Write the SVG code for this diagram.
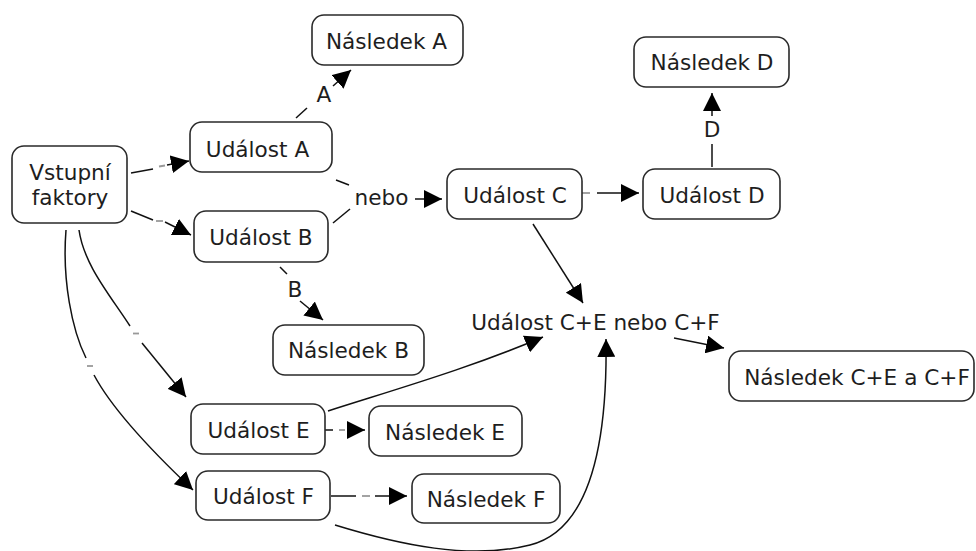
<svg xmlns="http://www.w3.org/2000/svg" width="976" height="551" viewBox="0 0 976 551">
<defs>
<style>
.box{fill:#fff;stroke:#2a2a2a;stroke-width:1.6}
.t{font-family:"DejaVu Sans","Verdana",sans-serif;font-size:21.6px;fill:#1e1e1e;text-anchor:middle}
.c{fill:none;stroke:#111;stroke-width:1.5}
.g{fill:none;stroke:#999;stroke-width:1.8}
</style>
<marker id="ah" markerUnits="userSpaceOnUse" markerWidth="19" markerHeight="18" refX="18" refY="9" orient="auto" viewBox="0 0 19 18">
<path d="M0,0 L18,9 L0,18 Z" fill="#000"/>
</marker>
</defs>
<rect width="976" height="551" fill="#fff"/>
<g id="connectors">
<!-- Vstupni -> Udalost A -->
<path class="c" d="M131,173 L153,169"/>
<path class="g" d="M159,166.5 L165,165.5"/>
<path class="c" d="M167,165 L189,161" marker-end="url(#ah)"/>
<!-- Vstupni -> Udalost B -->
<path class="c" d="M131,211 L153,220"/>
<path class="g" d="M156,221 L163,221"/>
<path class="c" d="M165,222 L191,235" marker-end="url(#ah)"/>
<!-- Udalost A -> Nasledek A -->
<path class="c" d="M296,118 L307,108"/>
<path class="c" d="M333,86 L351,70" marker-end="url(#ah)"/>
<!-- A, B -> nebo -> C -->
<path class="c" d="M336,180 L349,185"/>
<path class="c" d="M333,223 L350,209"/>
<path class="c" d="M415,199 L442,199" marker-end="url(#ah)"/>
<!-- C -> D -->
<path class="g" d="M582,193 L590,193"/>
<path class="c" d="M597,193 L639,193" marker-end="url(#ah)"/>
<!-- D -> Nasledek D -->
<path class="c" d="M712,167 L712,144"/>
<path class="c" d="M712,116 L712,93" marker-end="url(#ah)"/>
<!-- B -> Nasledek B -->
<path class="c" d="M280,267 L287,274"/>
<path class="c" d="M300,301 L323,320" marker-end="url(#ah)"/>
<!-- C -> C+E -->
<path class="c" d="M533,224 L583,303" marker-end="url(#ah)"/>
<!-- C+E -> Nasledek C+E -->
<path class="c" d="M674,338 L724,348" marker-end="url(#ah)"/>
<!-- E -> C+E -->
<path class="c" d="M328,411 C400,388 470,368 543,337" marker-end="url(#ah)"/>
<!-- F -> C+E -->
<path class="c" d="M335,525 C400,545 470,560 530,545 C580,532.5 608,470 606,339" marker-end="url(#ah)"/>
<!-- Vstupni -> E -->
<path class="c" d="M79,230 C84,265 110,295 130,326"/>
<path class="g" d="M133,333.5 L139,333.5"/>
<path class="c" d="M142,343 L186,397" marker-end="url(#ah)"/>
<!-- Vstupni -> F -->
<path class="c" d="M66,230 C62,280 72,330 86,358"/>
<path class="g" d="M87,366 L93,366"/>
<path class="c" d="M94,375 C110,405 140,440 193,490" marker-end="url(#ah)"/>
<!-- E -> Nasledek E -->
<path class="c" d="M325,430 L333,430"/>
<path class="g" d="M339,430 L345,430"/>
<path class="c" d="M347,430 L365,430" marker-end="url(#ah)"/>
<!-- F -> Nasledek F -->
<path class="c" d="M331,496 L356,496"/>
<path class="g" d="M362,496 L370,496"/>
<path class="c" d="M375,496 L407,496" marker-end="url(#ah)"/>
<!-- link labels -->
<text class="t" x="324" y="102">A</text>
<text class="t" x="381.5" y="205">nebo</text>
<text class="t" x="712" y="137">D</text>
<text class="t" x="295" y="297">B</text>
</g>
<g id="vstupni">
<rect class="box" x="12" y="146" width="115" height="77" rx="12"/>
<text class="t" x="70" y="180">Vstupní</text>
<text class="t" x="70" y="205">faktory</text>
</g>
<g id="nasledekA">
<rect class="box" x="312" y="15" width="151" height="50" rx="12"/>
<text class="t" x="386.5" y="49">Následek A</text>
</g>
<g id="udalostA">
<rect class="box" x="190" y="122" width="142" height="50" rx="12"/>
<text class="t" x="257.5" y="157">Událost A</text>
</g>
<g id="udalostB">
<rect class="box" x="194" y="211" width="134" height="51" rx="12"/>
<text class="t" x="261" y="245">Událost B</text>
</g>
<g id="udalostC">
<rect class="box" x="447" y="169" width="135" height="50" rx="12"/>
<text class="t" x="515" y="203">Událost C</text>
</g>
<g id="udalostD">
<rect class="box" x="643" y="169" width="137" height="50" rx="12"/>
<text class="t" x="712" y="203">Událost D</text>
</g>
<g id="nasledekD">
<rect class="box" x="634" y="37" width="155" height="50" rx="12"/>
<text class="t" x="712" y="70">Následek D</text>
</g>
<g id="nasledekB">
<rect class="box" x="273" y="325" width="151" height="50" rx="12"/>
<text class="t" x="348.5" y="358">Následek B</text>
</g>
<g id="udalostCE">
<text class="t" x="595.5" y="329.5">Událost C+E nebo C+F</text>
</g>
<g id="nasledekCE">
<rect class="box" x="729" y="351" width="245" height="50" rx="12"/>
<text class="t" x="857" y="385">Následek C+E a C+F</text>
</g>
<g id="udalostE">
<rect class="box" x="191" y="404" width="134" height="50" rx="12"/>
<text class="t" x="258.5" y="438">Událost E</text>
</g>
<g id="nasledekE">
<rect class="box" x="369" y="406" width="153" height="50" rx="12"/>
<text class="t" x="445" y="440">Následek E</text>
</g>
<g id="udalostF">
<rect class="box" x="196" y="471" width="134" height="49" rx="12"/>
<text class="t" x="263.5" y="504">Událost F</text>
</g>
<g id="nasledekF">
<rect class="box" x="412" y="474" width="148" height="49" rx="12"/>
<text class="t" x="486" y="507">Následek F</text>
</g>
</svg>
